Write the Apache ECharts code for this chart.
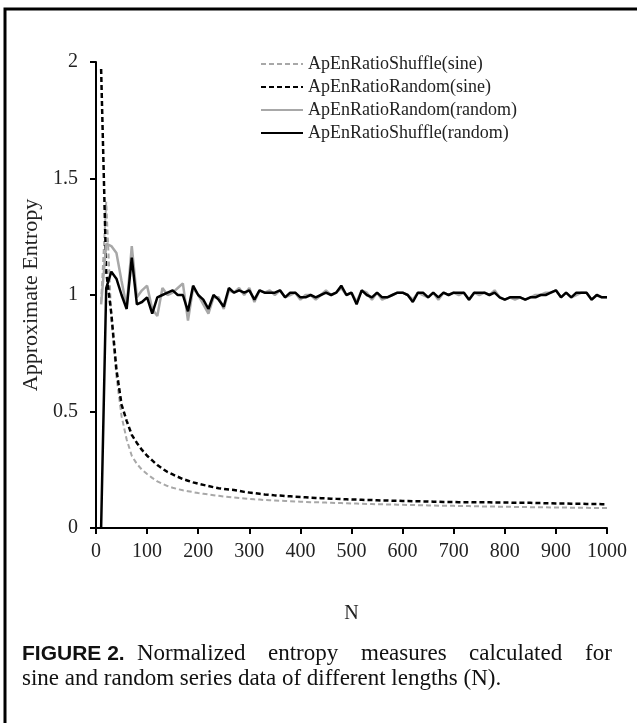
<!DOCTYPE html>
<html>
<head>
<meta charset="utf-8">
<script src="https://cdn.jsdelivr.net/npm/echarts@6/dist/echarts.min.js"></script>
<style>
  html, body { margin: 0; padding: 0; background: #fff; }
  #chart { width: 637px; height: 723px; }
</style>
</head>
<body>
<div id="chart"></div>
<script>
// series lengths N
var nValues = [10, 20, 30, 40, 50, 60, 70, 80, 90, 100,
  110, 120, 130, 140, 150, 160, 170, 180, 190, 200,
  210, 220, 230, 240, 250, 260, 270, 280, 290, 300,
  310, 320, 330, 340, 350, 360, 370, 380, 390, 400,
  410, 420, 430, 440, 450, 460, 470, 480, 490, 500,
  510, 520, 530, 540, 550, 560, 570, 580, 590, 600,
  610, 620, 630, 640, 650, 660, 670, 680, 690, 700,
  710, 720, 730, 740, 750, 760, 770, 780, 790, 800,
  810, 820, 830, 840, 850, 860, 870, 880, 890, 900,
  910, 920, 930, 940, 950, 960, 970, 980, 990, 1000];

var seriesNames = ['ApEnRatioShuffle(sine)', 'ApEnRatioRandom(sine)', 'ApEnRatioRandom(random)', 'ApEnRatioShuffle(random)'];

var shuffleSine = [0.97, 1.40, 0.90, 0.65, 0.48, 0.38, 0.31, 0.275, 0.25, 0.232,
  0.215, 0.20, 0.19, 0.18, 0.173, 0.167, 0.162, 0.158, 0.154, 0.15,
  0.147, 0.144, 0.141, 0.138, 0.135, 0.133, 0.131, 0.129, 0.127, 0.125,
  0.123, 0.122, 0.12, 0.119, 0.118, 0.117, 0.116, 0.115, 0.114, 0.113,
  0.112, 0.111, 0.11, 0.11, 0.109, 0.108, 0.107, 0.107, 0.106, 0.105,
  0.105, 0.104, 0.103, 0.103, 0.102, 0.102, 0.101, 0.101, 0.1, 0.1,
  0.099, 0.099, 0.098, 0.098, 0.097, 0.097, 0.096, 0.096, 0.095, 0.095,
  0.094, 0.094, 0.094, 0.093, 0.093, 0.092, 0.092, 0.092, 0.091, 0.091,
  0.091, 0.09, 0.09, 0.09, 0.089, 0.089, 0.089, 0.089, 0.088, 0.088,
  0.088, 0.088, 0.087, 0.087, 0.087, 0.087, 0.086, 0.086, 0.086, 0.086];

var randomSine = [1.97, 1.10, 0.92, 0.68, 0.53, 0.46, 0.40, 0.365, 0.335, 0.31,
  0.29, 0.27, 0.255, 0.24, 0.23, 0.22, 0.21, 0.203, 0.196, 0.19,
  0.185, 0.18, 0.175, 0.171, 0.168, 0.165, 0.163, 0.16, 0.155, 0.152,
  0.15, 0.147, 0.144, 0.142, 0.14, 0.139, 0.137, 0.136, 0.134, 0.133,
  0.132, 0.13, 0.129, 0.128, 0.127, 0.126, 0.125, 0.124, 0.123, 0.122,
  0.122, 0.121, 0.12, 0.12, 0.119, 0.118, 0.118, 0.117, 0.117, 0.116,
  0.116, 0.115, 0.115, 0.114, 0.114, 0.113, 0.113, 0.112, 0.112, 0.112,
  0.111, 0.111, 0.111, 0.11, 0.11, 0.11, 0.11, 0.109, 0.109, 0.109,
  0.109, 0.108, 0.108, 0.108, 0.108, 0.107, 0.107, 0.106, 0.106, 0.105,
  0.105, 0.105, 0.104, 0.104, 0.104, 0.103, 0.103, 0.103, 0.102, 0.102];

var randomRandom = [0.96, 1.22, 1.21, 1.18, 1.06, 0.95, 1.21, 0.99, 1.02, 1.04,
  0.94, 0.91, 1.03, 1.00, 1.01, 1.03, 1.05, 0.89, 1.03, 1.00,
  0.96, 0.92, 0.99, 0.99, 0.94, 1.02, 1.01, 1.03, 1.00, 1.03,
  0.97, 1.02, 1.01, 1.02, 1.00, 1.02, 0.99, 1.00, 1.01, 0.98,
  1.00, 1.00, 0.98, 1.00, 1.02, 1.00, 1.01, 1.03, 1.00, 1.01,
  0.97, 1.02, 1.01, 0.98, 1.01, 0.98, 0.99, 1.00, 1.01, 1.01,
  1.00, 0.98, 1.01, 1.00, 0.99, 1.01, 0.98, 1.01, 1.00, 1.01,
  1.00, 1.01, 0.98, 1.01, 1.00, 1.01, 1.00, 1.02, 0.99, 0.98,
  0.99, 0.98, 0.99, 0.98, 0.99, 1.00, 1.00, 1.01, 1.01, 1.02,
  0.99, 1.01, 0.99, 1.00, 1.01, 1.01, 0.98, 1.00, 0.99, 0.99];

var shuffleRandom = [0.00, 1.03, 1.10, 1.07, 1.00, 0.94, 1.16, 0.96, 0.97, 0.99,
  0.92, 0.99, 1.00, 1.01, 1.02, 1.00, 1.00, 0.93, 1.04, 1.00,
  0.98, 0.94, 1.00, 0.98, 0.95, 1.03, 1.01, 1.02, 1.01, 1.02,
  0.98, 1.02, 1.01, 1.01, 1.01, 1.02, 0.99, 1.01, 1.01, 0.99,
  0.99, 1.00, 0.99, 1.00, 1.01, 1.00, 1.01, 1.04, 1.00, 1.01,
  0.96, 1.02, 1.00, 0.99, 1.01, 0.99, 0.99, 1.00, 1.01, 1.01,
  1.00, 0.97, 1.01, 1.01, 0.99, 1.01, 0.99, 1.01, 1.00, 1.01,
  1.01, 1.01, 0.98, 1.01, 1.01, 1.01, 1.00, 1.01, 0.99, 0.98,
  0.99, 0.99, 0.99, 0.98, 0.99, 0.99, 1.00, 1.00, 1.01, 1.02,
  0.99, 1.01, 0.99, 1.01, 1.01, 1.01, 0.98, 1.00, 0.99, 0.99];

// caption, first line is justified in the figure so each word gets its own spot
var captionWords = [
  { text: 'FIGURE 2.', x: 22, bold: true },
  { text: 'Normalized', x: 137 },
  { text: 'entropy', x: 268 },
  { text: 'measures', x: 361 },
  { text: 'calculated', x: 469 },
  { text: 'for', x: 585 }
];
var captionLine2 = 'sine and random series data of different lengths (N).';

var serif = "'Liberation Serif', 'Times New Roman', serif";

function pairs(ys) {
  return nValues.map(function (n, i) { return [n, ys[i]]; });
}

var chart = echarts.init(document.getElementById('chart'));

var graphics = [
  {
    type: 'rect',
    shape: { x: 5, y: 9, width: 700, height: 800 },
    style: { fill: 'none', stroke: '#000', lineWidth: 3 },
    silent: true
  }
];
captionWords.forEach(function (w) {
  graphics.push({
    type: 'text',
    left: w.x,
    top: w.bold ? 644 : 642,
    style: {
      text: w.text,
      fill: '#111',
      font: w.bold ? "bold 21px 'Liberation Sans', Arial, sans-serif" : "23px " + serif
    }
  });
});
graphics.push({
  type: 'text',
  left: 22,
  top: 667,
  style: { text: captionLine2, fill: '#111', font: "23px " + serif }
});

chart.setOption({
  animation: false,
  backgroundColor: '#fff',
  grid: { left: 96, right: 30, top: 62, bottom: 195 },
  legend: {
    orient: 'vertical',
    left: 255,
    top: 50,
    itemWidth: 42,
    itemHeight: 14,
    itemGap: 5,
    itemStyle: { opacity: 0 },
    textStyle: { fontFamily: serif, fontSize: 18, color: '#222' },
    data: seriesNames
  },
  xAxis: {
    type: 'value',
    min: 0,
    max: 1000,
    interval: 100,
    name: 'N',
    nameLocation: 'middle',
    nameGap: 76,
    nameTextStyle: { fontFamily: serif, fontSize: 20, color: '#222' },
    axisLine: { lineStyle: { color: '#000', width: 2 } },
    axisTick: { length: 6, lineStyle: { color: '#000', width: 2 } },
    axisLabel: {
      fontFamily: serif, fontSize: 20, color: '#222', margin: 14,
      formatter: function (v) { return String(v); }
    },
    splitLine: { show: false }
  },
  yAxis: {
    type: 'value',
    min: 0,
    max: 2,
    interval: 0.5,
    name: 'Approximate Entropy',
    nameLocation: 'middle',
    nameGap: 54,
    nameTextStyle: { fontFamily: serif, fontSize: 22, color: '#222' },
    axisLine: { show: true, lineStyle: { color: '#000', width: 2 } },
    axisTick: { show: true, length: 6, lineStyle: { color: '#000', width: 2 } },
    axisLabel: { fontFamily: serif, fontSize: 20, color: '#222', margin: 18 },
    splitLine: { show: false }
  },
  series: [
    {
      name: seriesNames[0],
      type: 'line',
      symbol: 'none',
      data: pairs(shuffleSine),
      lineStyle: { color: '#a8a8a8', width: 2, type: [5, 3] },
      itemStyle: { color: '#a8a8a8' }
    },
    {
      name: seriesNames[1],
      type: 'line',
      symbol: 'none',
      data: pairs(randomSine),
      lineStyle: { color: '#000', width: 2.5, type: [5, 3] },
      itemStyle: { color: '#000' }
    },
    {
      name: seriesNames[2],
      type: 'line',
      symbol: 'none',
      data: pairs(randomRandom),
      lineStyle: { color: '#a8a8a8', width: 2.5 },
      itemStyle: { color: '#a8a8a8' }
    },
    {
      name: seriesNames[3],
      type: 'line',
      symbol: 'none',
      data: pairs(shuffleRandom),
      lineStyle: { color: '#000', width: 2.5 },
      itemStyle: { color: '#000' }
    }
  ],
  graphic: graphics
});
</script>
</body>
</html>
